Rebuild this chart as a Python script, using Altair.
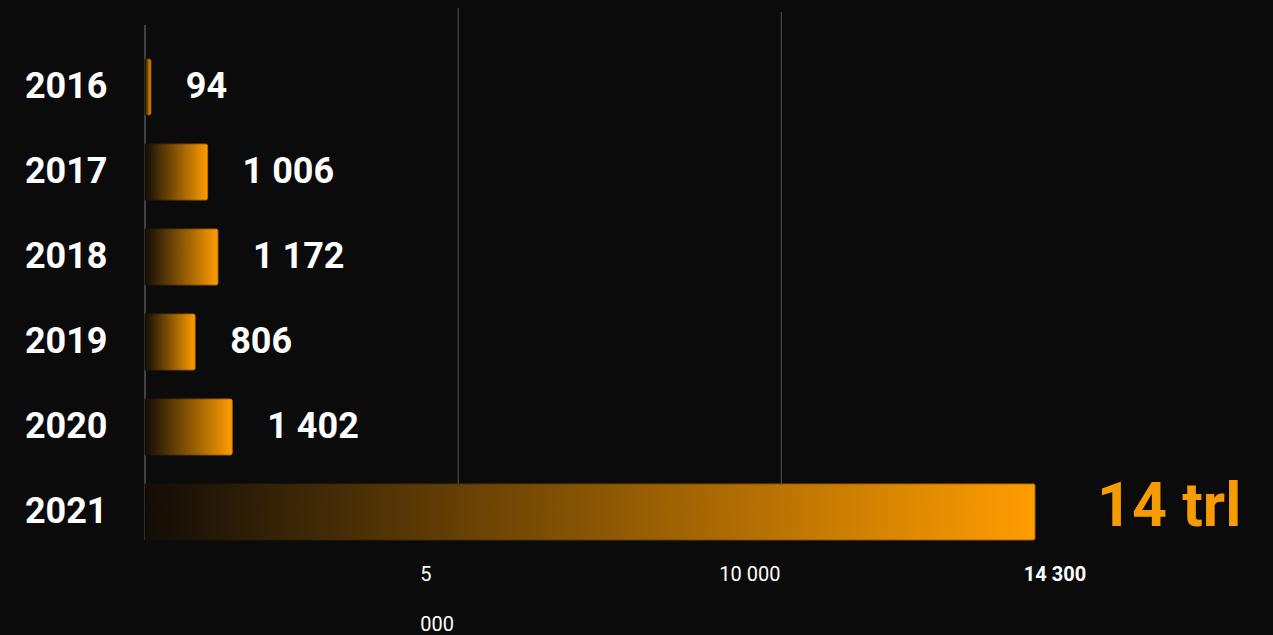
import altair as alt
import pandas as pd

years = ["2016", "2017", "2018", "2019", "2020", "2021"]
values = [94, 1006, 1172, 806, 1402, 14300]
value_labels = ["94", "1 006", "1 172", "806", "1 402", "14 trl"]
grid_values = [5000, 10000]
tick_values = [5000, 10000, 14300]
tick_labels = ["5\n000", "10 000", "14 300"]

W, H = 890, 532
BG = "#0b0b0b"
ORANGE = "#ff9d00"
FONT = "Roboto"

# dark page background behind the chart (page margin)
try:
    import altair.utils.html as _ah

    class _DarkBody:
        def __init__(self, tpl):
            self.tpl = tpl

        def render(self, *a, **k):
            out = self.tpl.render(*a, **k)
            return out.replace("<body>", '<body style="background:%s;">' % BG, 1)

    _ah.TEMPLATES["standard"] = _DarkBody(_ah.TEMPLATES["standard"])
except Exception:
    pass

df = pd.DataFrame({"year": years, "value": values, "label": value_labels})
grid_df = pd.DataFrame({"value": grid_values})
ticks_df = pd.DataFrame({"value": tick_values, "label": tick_labels})

xscale = alt.Scale(domain=[0, 14300], nice=False, zero=True)
x_enc = alt.X("value:Q", scale=xscale, axis=None)
y_enc = alt.Y(
    "year:N",
    sort=years,
    scale=alt.Scale(paddingInner=0.34, paddingOuter=0.3, align=1),
    axis=alt.Axis(
        title=None, domain=False, ticks=False, grid=False,
        labelFont=FONT, labelFontSize=36, labelFontWeight="bold",
        labelColor="white", labelPadding=38,
    ),
)

grid1 = alt.Chart(grid_df).transform_filter("datum.value == 5000").mark_rule(
    color="#4a4a4a", strokeWidth=1.2, xOffset=2
).encode(x=x_enc, y=alt.value(0), y2=alt.value(H))
grid2 = alt.Chart(grid_df).transform_filter("datum.value == 10000").mark_rule(
    color="#4a4a4a", strokeWidth=1.2, xOffset=14
).encode(x=x_enc, y=alt.value(4), y2=alt.value(H))

axis_line = alt.Chart(pd.DataFrame({"value": [0]})).mark_rule(
    color="#555555", strokeWidth=1.5
).encode(x=x_enc, y=alt.value(17), y2=alt.value(H))

gradient = alt.Gradient(
    gradient="linear",
    stops=[
        alt.GradientStop(color="#120d07", offset=0),
        alt.GradientStop(color=ORANGE, offset=1),
    ],
    x1=0, x2=1, y1=0, y2=0,
)
stroke_gradient = alt.Gradient(
    gradient="linear",
    stops=[
        alt.GradientStop(color="#120d07", offset=0),
        alt.GradientStop(color="#c47600", offset=1),
    ],
    x1=0, x2=1, y1=0, y2=0,
)

bars = alt.Chart(df).mark_bar(
    color=gradient, cornerRadiusEnd=2, stroke=stroke_gradient, strokeWidth=0.8
).encode(x=x_enc, y=y_enc)

labels = alt.Chart(df).transform_filter("datum.year != '2021'").mark_text(
    align="left", baseline="middle", dx=35, font=FONT, fontSize=36,
    fontWeight="bold", color="white"
).encode(x=x_enc, y=y_enc, text="label:N")

big_label = alt.Chart(df).transform_filter("datum.year == '2021'").mark_text(
    align="left", baseline="middle", dx=62, dy=-4, font=FONT, fontSize=61,
    fontWeight="bold", color="#f79c00"
).encode(x=x_enc, y=y_enc, text="label:N")

tick5 = alt.Chart(ticks_df).transform_filter("datum.value == 5000").mark_text(
    align="left", baseline="alphabetic", dx=-36, lineBreak="\n", lineHeight=50,
    font=FONT, fontSize=20, color="white"
).encode(x=x_enc, y=alt.value(H + 41), text="label:N")

tick10 = alt.Chart(ticks_df).transform_filter("datum.value == 10000").mark_text(
    align="right", baseline="alphabetic", dx=13,
    font=FONT, fontSize=20, color="white"
).encode(x=x_enc, y=alt.value(H + 41), text="label:N")

tick14 = alt.Chart(ticks_df).transform_filter("datum.value == 14300").mark_text(
    align="center", baseline="alphabetic", dx=20,
    font=FONT, fontSize=20, fontWeight="bold", color="white"
).encode(x=x_enc, y=alt.value(H + 41), text="label:N")

chart = alt.layer(
    grid1, grid2, axis_line, bars, labels, big_label, tick5, tick10, tick14
).properties(
    width=W, height=H, background=BG,
    padding={"left": 137, "top": 0, "right": 230, "bottom": 95},
    autosize=alt.AutoSizeParams(type="none"),
).configure_view(stroke=None)

chart.save("out.html", embed_options={"renderer": "svg", "actions": False})
